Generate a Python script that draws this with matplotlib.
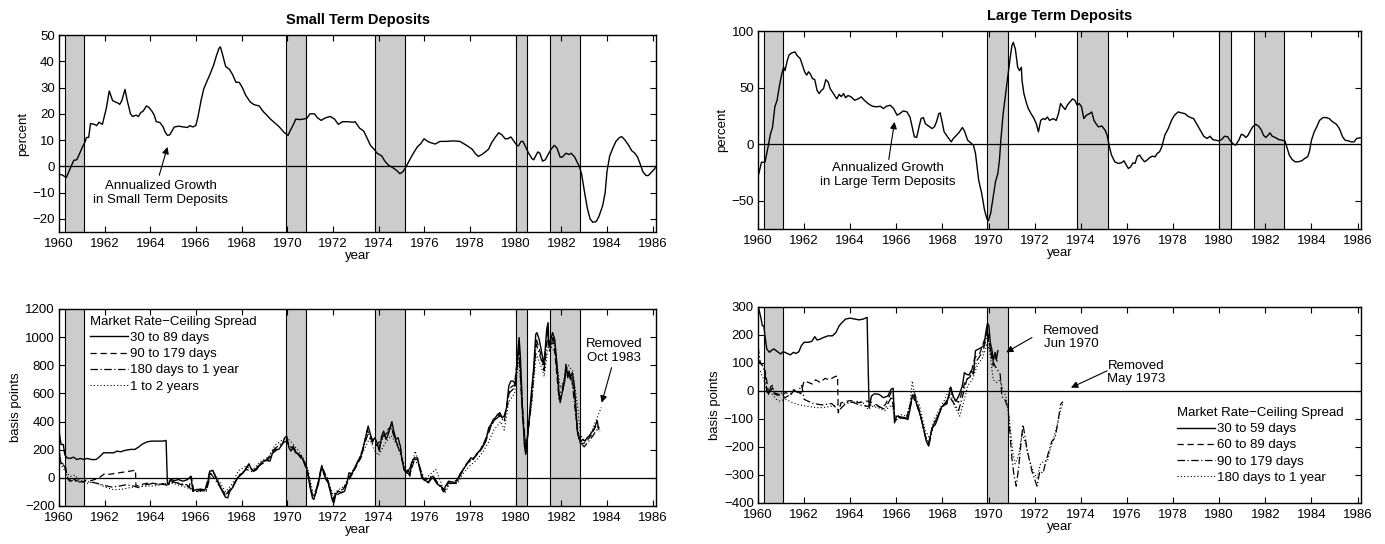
import matplotlib
matplotlib.use("Agg")
import matplotlib.pyplot as plt
from matplotlib.lines import Line2D

plt.rcParams['font.family'] = ['Liberation Sans', 'DejaVu Sans']
plt.rcParams['font.size'] = 9.5

# NBER recessions (start, end) in decimal years
recessions = [(1960.25, 1961.08), (1969.92, 1970.83), (1973.83, 1975.17),
              (1980.0, 1980.5), (1981.5, 1982.83)]

# annualized growth, small term deposits (percent)
small_t = [1960.0, 1960.15, 1960.32, 1960.55, 1960.65, 1960.78, 1961.03, 1961.15, 1961.2, 1961.3,
           1961.38, 1961.55, 1961.65, 1961.75, 1961.9, 1962.07, 1962.2, 1962.35, 1962.6, 1962.66,
           1962.75, 1962.89, 1962.99, 1963.13, 1963.22, 1963.38, 1963.48, 1963.58, 1963.68, 1963.83,
           1963.93, 1964.07, 1964.17, 1964.26, 1964.42, 1964.56, 1964.65, 1964.75, 1964.85, 1964.95,
           1965.05, 1965.25, 1965.44, 1965.63, 1965.73, 1965.85, 1965.99, 1966.09, 1966.22, 1966.34,
           1966.46, 1966.61, 1966.77, 1966.89, 1967.01, 1967.07, 1967.15, 1967.3, 1967.46, 1967.6,
           1967.75, 1967.89, 1968.03, 1968.18, 1968.38, 1968.54, 1968.77, 1968.93, 1969.1, 1969.26,
           1969.46, 1969.65, 1969.85, 1970.0, 1970.03, 1970.15, 1970.27, 1970.37, 1970.54, 1970.7,
           1970.86, 1970.99, 1971.19, 1971.32, 1971.48, 1971.68, 1971.88, 1972.07, 1972.23, 1972.42,
           1972.66, 1972.86, 1972.97, 1973.05, 1973.17, 1973.34, 1973.48, 1973.64, 1973.8, 1973.93,
           1974.13, 1974.27, 1974.42, 1974.62, 1974.78, 1974.93, 1975.07, 1975.21, 1975.36, 1975.52,
           1975.7, 1975.83, 1975.99, 1976.15, 1976.28, 1976.48, 1976.68, 1976.97, 1977.26, 1977.56,
           1977.85, 1978.1, 1978.22, 1978.36, 1978.52, 1978.67, 1978.81, 1978.95, 1979.1, 1979.26,
           1979.4, 1979.54, 1979.65, 1979.79, 1979.89, 1980.05, 1980.12, 1980.24, 1980.32, 1980.43,
           1980.57, 1980.71, 1980.79, 1980.97, 1981.06, 1981.18, 1981.3, 1981.42, 1981.55, 1981.69,
           1981.81, 1981.95, 1982.04, 1982.2, 1982.34, 1982.43, 1982.59, 1982.67, 1982.79, 1982.89,
           1983.02, 1983.14, 1983.26, 1983.38, 1983.53, 1983.65, 1983.81, 1983.92, 1984.0, 1984.12,
           1984.26, 1984.39, 1984.55, 1984.65, 1984.79, 1984.95, 1985.08, 1985.22, 1985.34, 1985.45,
           1985.57, 1985.71, 1985.81, 1985.92, 1986.08, 1986.15]
small_v = [-3.0, -3.3, -4.3, 0.4, 2.3, 2.5, 7.4, 9.5, 11, 11,
           16.3, 16.0, 15.5, 16.8, 16, 22, 28.7, 25, 24, 23.6,
           25, 29.3, 25, 20, 19, 19.5, 19, 20.5, 21, 23,
           22.5, 21, 19.5, 17, 16.7, 15, 13, 11.8, 12, 13.5,
           15, 15.3, 15, 14.8, 15.5, 15, 15.5, 19, 25, 29.5,
           32, 35, 38.5, 42, 45, 45.5, 43, 38, 37, 35,
           32, 32, 30, 27, 24.5, 23.5, 23, 21, 19.5, 18,
           16.5, 15, 13, 12, 11.8, 14, 16, 18, 17.8, 18,
           18.3, 20, 20, 18.5, 17.5, 18.5, 19, 18, 16, 17,
           17, 16.8, 17, 16, 14.5, 13.5, 11, 8, 6.5, 5,
           4, 2, 0.5, -0.5, -1.5, -2.8, -2, 0, 2.5, 5,
           7.5, 8.5, 10.5, 9.5, 9, 8.5, 9.5, 9.5, 9.7, 9.5,
           8, 6.5, 5, 3.8, 4.5, 5.5, 6.5, 9, 11, 12.8,
           12, 10.5, 10.5, 11.2, 10, 8, 7.8, 9.5, 9.5, 7.5,
           5, 3, 2.5, 5.5, 5, 2, 2.5, 4.5, 6.5, 8,
           7, 3.5, 3.5, 5, 4.5, 5, 3.5, 2, 0, -3,
           -10, -16, -20, -21.3, -21, -19, -15, -10, -2, 4,
           7, 9.5, 11, 11.3, 10, 8, 6, 5, 3.5, 1,
           -2, -3.5, -3.5, -2.5, -1, 0]

# annualized growth, large term deposits (percent)
large_t = [1960.0, 1960.15, 1960.3, 1960.44, 1960.54, 1960.63, 1960.73, 1960.83, 1960.92, 1961.02,
           1961.11, 1961.17, 1961.27, 1961.35, 1961.46, 1961.6, 1961.69, 1961.83, 1961.92, 1962.02,
           1962.11, 1962.19, 1962.27, 1962.36, 1962.46, 1962.56, 1962.65, 1962.75, 1962.84, 1962.94,
           1963.04, 1963.13, 1963.23, 1963.32, 1963.42, 1963.52, 1963.61, 1963.71, 1963.8, 1963.9,
           1964.04, 1964.19, 1964.34, 1964.48, 1964.61, 1964.77, 1964.96, 1965.15, 1965.3, 1965.44,
           1965.57, 1965.73, 1965.88, 1966.03, 1966.15, 1966.3, 1966.46, 1966.59, 1966.69, 1966.78,
           1966.88, 1966.98, 1967.07, 1967.17, 1967.26, 1967.4, 1967.55, 1967.65, 1967.74, 1967.84,
           1967.9, 1967.97, 1968.07, 1968.22, 1968.38, 1968.47, 1968.61, 1968.74, 1968.86, 1968.95,
           1969.09, 1969.22, 1969.34, 1969.43, 1969.57, 1969.7, 1969.82, 1969.92, 1969.99, 1970.09,
           1970.2, 1970.3, 1970.4, 1970.47, 1970.53, 1970.63, 1970.72, 1970.82, 1970.92, 1971.01,
           1971.07, 1971.16, 1971.26, 1971.34, 1971.42, 1971.45, 1971.53, 1971.63, 1971.72, 1971.84,
           1971.97, 1972.07, 1972.16, 1972.26, 1972.36, 1972.45, 1972.55, 1972.64, 1972.8, 1972.93,
           1973.03, 1973.12, 1973.22, 1973.32, 1973.41, 1973.51, 1973.64, 1973.74, 1973.84, 1973.93,
           1974.03, 1974.13, 1974.24, 1974.38, 1974.47, 1974.57, 1974.66, 1974.76, 1974.91, 1975.05,
           1975.14, 1975.24, 1975.33, 1975.47, 1975.62, 1975.76, 1975.87, 1975.97, 1976.06, 1976.16,
           1976.26, 1976.35, 1976.45, 1976.55, 1976.64, 1976.76, 1976.87, 1976.99, 1977.1, 1977.22,
           1977.31, 1977.41, 1977.51, 1977.64, 1977.79, 1977.93, 1978.06, 1978.22, 1978.37, 1978.51,
           1978.64, 1978.76, 1978.89, 1979.02, 1979.18, 1979.33, 1979.47, 1979.6, 1979.72, 1979.85,
           1979.98, 1980.1, 1980.23, 1980.37, 1980.48, 1980.62, 1980.71, 1980.85, 1980.96, 1981.06,
           1981.16, 1981.25, 1981.35, 1981.45, 1981.58, 1981.71, 1981.83, 1981.92, 1982.02, 1982.12,
           1982.2, 1982.3, 1982.43, 1982.59, 1982.72, 1982.85, 1982.93, 1983.04, 1983.16, 1983.29,
           1983.43, 1983.58, 1983.71, 1983.83, 1983.91, 1984.0, 1984.12, 1984.23, 1984.35, 1984.5,
           1984.64, 1984.77, 1984.92, 1985.08, 1985.21, 1985.35, 1985.46, 1985.6, 1985.73, 1985.85,
           1985.96, 1986.09, 1986.15]
large_v = [-29, -16, -16, -2, 9, 15, 33, 39, 50.6, 61,
           68, 65, 74, 79, 80.6, 81.5, 78.5, 75.6, 70, 64,
           61, 64, 62, 58, 57, 47.6, 44.7, 47.6, 49, 57,
           55, 49, 46, 43, 40, 44, 42, 44.7, 41, 43,
           41.8, 38.8, 40, 41.8, 38.8, 35.9, 33.5, 33, 33.5, 31.5,
           33.5, 34.4, 31.5, 25.6, 27, 29.4, 28.5, 24, 15, 6.5,
           5.9, 15, 22.6, 23.5, 18, 16, 13.8, 15.3, 19.7, 27,
           27.6, 21, 10.9, 6.5, 2, 5, 7.9, 10.9, 14.7, 11.8,
           3.5, 1.2, -0.9, -8, -32, -43.5, -58, -65.6, -67.6, -61,
           -46.5, -33, -26, -14, 3.5, 27, 41.8, 58, 74, 87,
           90, 84, 68, 65, 68, 56, 44.7, 37, 31.5, 27,
           22.6, 18, 10.9, 21, 22.6, 21.8, 24, 21, 22.6, 21,
           27, 35.9, 33, 30.6, 34.4, 37, 40, 38.8, 34.4, 35.9,
           33, 22.6, 25.6, 27, 28.5, 21, 18, 15.3, 16, 12.4,
           7.9, -2.4, -9.7, -15.6, -17, -16.5, -14.7, -18.5, -21.5, -20,
           -16.5, -17, -10.6, -9.7, -12.6, -15.6, -14.1, -11.8, -10.6, -11.2,
           -8.2, -6.8, -2.4, 7.9, 13.8, 21, 25.6, 28.5, 27.6, 27,
           24.7, 23.5, 22.6, 18, 12.4, 7, 5, 7, 4, 3.5,
           2.9, 4, 7, 6.5, 2.9, 0, -0.9, 3.5, 8.8, 7.9,
           5.9, 7.9, 11.8, 15.3, 17.6, 15.9, 12.4, 7.9, 5.9, 7.9,
           10, 7, 5.9, 4, 3.5, 2.9, -2.4, -9.7, -13.5, -15.6,
           -15.6, -14.7, -12.6, -11.2, -6.8, 3.5, 10.9, 15.3, 21, 23.5,
           23.5, 22.6, 19.7, 17.6, 13.8, 6.5, 3.5, 2.9, 2, 2,
           5, 5.6, 5.6]

# market rate - ceiling spread, small deposits (basis points)
s30_t = [1960.0, 1960.09, 1960.19, 1960.25, 1960.35, 1960.5, 1960.64, 1960.78, 1960.93, 1961.09,
         1961.23, 1961.42, 1961.62, 1961.76, 1961.95, 1962.2, 1962.4, 1962.54, 1962.7, 1962.89,
         1963.13, 1963.32, 1963.48, 1963.67, 1963.87, 1964.06, 1964.36, 1964.55, 1964.69, 1964.75,
         1964.8, 1964.88, 1965.08, 1965.23, 1965.43, 1965.63, 1965.78, 1965.86, 1966.02, 1966.21,
         1966.37, 1966.5, 1966.6, 1966.74, 1966.84, 1967.0, 1967.15, 1967.29, 1967.39, 1967.48,
         1967.62, 1967.78, 1967.93, 1968.07, 1968.2, 1968.32, 1968.43, 1968.52, 1968.66, 1968.8,
         1968.95, 1969.11, 1969.24, 1969.38, 1969.5, 1969.63, 1969.77, 1969.89, 1969.97, 1970.07,
         1970.16, 1970.26, 1970.36, 1970.47, 1970.61, 1970.7, 1970.81, 1970.9, 1971.0, 1971.1,
         1971.16, 1971.26, 1971.36, 1971.45, 1971.51, 1971.59, 1971.69, 1971.79, 1971.88, 1971.98,
         1972.04, 1972.12, 1972.23, 1972.37, 1972.51, 1972.63, 1972.7, 1972.82, 1972.95, 1973.09,
         1973.25, 1973.35, 1973.44, 1973.54, 1973.64, 1973.74, 1973.83, 1973.93, 1974.03, 1974.13,
         1974.22, 1974.32, 1974.42, 1974.52, 1974.58, 1974.66, 1974.76, 1974.85, 1974.95, 1975.01,
         1975.11, 1975.21, 1975.3, 1975.37, 1975.44, 1975.56, 1975.7, 1975.79, 1975.89, 1975.99,
         1976.09, 1976.18, 1976.28, 1976.38, 1976.48, 1976.58, 1976.73, 1976.83, 1976.93, 1977.06,
         1977.2, 1977.36, 1977.46, 1977.55, 1977.65, 1977.75, 1977.85, 1977.94, 1978.04, 1978.14,
         1978.24, 1978.33, 1978.43, 1978.53, 1978.63, 1978.72, 1978.82, 1978.92, 1979.02, 1979.11,
         1979.21, 1979.31, 1979.41, 1979.5, 1979.6, 1979.7, 1979.79, 1979.89, 1979.99, 1980.05,
         1980.15, 1980.21, 1980.29, 1980.38, 1980.44, 1980.52, 1980.68, 1980.78, 1980.88, 1980.93,
         1981.03, 1981.13, 1981.23, 1981.3, 1981.36, 1981.42, 1981.46, 1981.56, 1981.62, 1981.71,
         1981.81, 1981.89, 1981.95, 1982.05, 1982.15, 1982.2, 1982.28, 1982.34, 1982.4, 1982.48,
         1982.56, 1982.64, 1982.7, 1982.78, 1982.83, 1982.93, 1983.03, 1983.13, 1983.22, 1983.32,
         1983.42, 1983.51, 1983.57, 1983.61, 1983.65]
s30_v = [332, 237, 237, 166, 142, 138, 147, 130, 138, 130,
         138, 130, 130, 147, 178, 178, 178, 190, 185, 195,
         202, 202, 218, 242, 256, 261, 261, 261, 266, -47,
         -47, -12, -19, -12, -24, -12, 12, -95, -83, -83,
         -90, -47, 47, 52, 12, -47, -95, -138, -142, -95,
         -66, -12, 24, 36, 71, 100, 59, 47, 59, 95,
         119, 123, 119, 190, 202, 202, 237, 285, 297, 214,
         190, 225, 178, 171, 154, 123, 95, 24, -71, -142,
         -154, -95, -47, 47, 88, 36, -12, -36, -95, -166,
         -178, -119, -95, -107, -95, -24, 36, 24, 71, 119,
         166, 237, 297, 368, 308, 261, 285, 249, 190, 297,
         332, 273, 308, 368, 399, 332, 273, 285, 225, 142,
         59, 36, 59, 12, 107, 142, 142, 71, 0, -12,
         -24, -36, 0, 12, -24, -47, -59, -95, -59, -24,
         -28, -36, -12, 24, 47, 71, 95, 119, 142, 130,
         154, 178, 190, 225, 237, 285, 356, 380, 415, 427,
         451, 463, 427, 439, 498, 653, 688, 688, 664, 807,
         997, 854, 522, 237, 166, 285, 593, 759, 1020, 1032,
         985, 902, 807, 925, 1056, 1103, 925, 997, 1032, 985,
         807, 617, 534, 617, 688, 807, 712, 759, 712, 747,
         664, 498, 332, 285, 249, 273, 261, 285, 297, 320,
         344, 380, 408, 368, 356]

s90_t = [1960.0, 1960.08, 1960.2, 1960.28, 1960.35, 1960.45, 1960.6, 1960.75, 1960.9, 1961.05,
         1961.2, 1961.4, 1961.6, 1961.8, 1962.0, 1962.2, 1962.4, 1962.6, 1962.8, 1963.0,
         1963.2, 1963.35, 1963.37, 1963.55, 1963.8, 1964.0, 1964.3, 1964.55, 1964.75, 1964.85,
         1965.0, 1965.3, 1965.55, 1965.7, 1965.8, 1965.9, 1966.2, 1966.4, 1966.6, 1966.75,
         1967.0, 1967.3, 1967.5, 1967.8, 1968.1, 1968.3, 1968.5, 1968.8, 1969.1, 1969.4,
         1969.7, 1969.95, 1970.1, 1970.3, 1970.5, 1970.7, 1970.9, 1971.1, 1971.2, 1971.45,
         1971.55, 1971.8, 1972.0, 1972.1, 1972.4, 1972.65, 1972.95, 1973.25, 1973.5, 1973.65,
         1973.9, 1974.1, 1974.25, 1974.55, 1974.75, 1974.95, 1975.1, 1975.3, 1975.5, 1975.7,
         1975.95, 1976.2, 1976.4, 1976.6, 1976.85, 1977.1, 1977.4, 1977.6, 1977.85, 1978.1,
         1978.4, 1978.65, 1978.9, 1979.1, 1979.3, 1979.45, 1979.6, 1979.75, 1979.95, 1980.15,
         1980.3, 1980.45, 1980.7, 1980.9, 1981.1, 1981.25, 1981.4, 1981.5, 1981.65, 1981.9,
         1982.05, 1982.2, 1982.4, 1982.55, 1982.7, 1982.85, 1983.05, 1983.3, 1983.55, 1983.65]
s90_v = [200, 110, 95, 90, 10, -20, 0, -25, -10, -30,
         -15, -20, -10, 5, 30, 25, 30, 35, 40, 45,
         50, 55, -60, -50, -40, -35, -45, -40, -55, -20,
         -25, -45, -55, -65, 5, -90, -80, -85, 40, 45,
         -40, -130, -90, -5, 40, 90, 50, 90, 120, 180,
         220, 280, 220, 210, 160, 120, 30, -120, -140, 40,
         70, -30, -160, -130, -100, -30, 60, 150, 340, 290,
         230, 270, 310, 370, 260, 210, 60, 40, 130, 130,
         -10, -30, 10, -40, -80, -30, -20, 30, 100, 130,
         180, 240, 360, 420, 450, 420, 480, 640, 660, 950,
         500, 180, 580, 990, 880, 780, 1060, 900, 1010, 560,
         600, 780, 700, 640, 320, 240, 250, 300, 380, 340]

s180_t = [1960.0, 1960.1, 1960.25, 1960.35, 1960.5, 1960.7, 1960.9, 1961.1, 1961.4, 1961.7,
          1962.0, 1962.3, 1962.6, 1962.9, 1963.2, 1963.5, 1963.8, 1964.1, 1964.4, 1964.75,
          1965.0, 1965.3, 1965.6, 1965.9, 1966.2, 1966.45, 1966.65, 1967.0, 1967.3, 1967.6,
          1967.9, 1968.2, 1968.5, 1968.8, 1969.1, 1969.4, 1969.7, 1969.95, 1970.1, 1970.4,
          1970.6, 1970.85, 1971.05, 1971.2, 1971.5, 1971.75, 1972.0, 1972.15, 1972.45, 1972.7,
          1973.0, 1973.3, 1973.55, 1973.75, 1974.0, 1974.2, 1974.55, 1974.8, 1975.0, 1975.15,
          1975.35, 1975.55, 1975.75, 1976.0, 1976.3, 1976.55, 1976.85, 1977.1, 1977.4, 1977.65,
          1977.9, 1978.2, 1978.5, 1978.75, 1979.0, 1979.3, 1979.5, 1979.7, 1979.95, 1980.15,
          1980.3, 1980.45, 1980.7, 1980.9, 1981.1, 1981.25, 1981.4, 1981.55, 1981.7, 1981.9,
          1982.05, 1982.2, 1982.45, 1982.65, 1982.8, 1983.0, 1983.3, 1983.55, 1983.7]
s180_v = [180, 100, 80, 0, -25, -10, -30, -25, -30, -40,
          -55, -65, -60, -50, -55, -70, -50, -40, -45, -50,
          -30, -40, -50, -100, -90, -95, 30, -50, -120, -60,
          20, 60, 40, 100, 130, 200, 240, 260, 230, 180,
          150, 80, -100, -120, 60, -20, -150, -100, -80, 0,
          80, 200, 320, 240, 210, 290, 350, 240, 150, 50,
          20, 120, 100, -20, 10, -30, -100, -40, -40, 40,
          110, 150, 210, 300, 400, 440, 400, 600, 640, 900,
          450, 200, 550, 950, 850, 760, 1000, 950, 960, 580,
          640, 760, 720, 420, 260, 220, 280, 340, 330]

s1y_t = [1960.0, 1960.1, 1960.3, 1960.5, 1960.7, 1960.9, 1961.2, 1961.5, 1961.8, 1962.1,
         1962.4, 1962.8, 1963.1, 1963.5, 1963.9, 1964.3, 1964.7, 1965.0, 1965.4, 1965.8,
         1966.1, 1966.45, 1966.7, 1967.0, 1967.3, 1967.6, 1967.85, 1968.15, 1968.5, 1968.85,
         1969.2, 1969.45, 1969.7, 1969.95, 1970.2, 1970.45, 1970.7, 1970.9, 1971.1, 1971.25,
         1971.5, 1971.75, 1972.0, 1972.2, 1972.5, 1972.75, 1973.0, 1973.3, 1973.6, 1973.8,
         1974.0, 1974.3, 1974.55, 1974.85, 1975.05, 1975.25, 1975.45, 1975.6, 1975.8, 1976.0,
         1976.3, 1976.5, 1976.7, 1976.9, 1977.15, 1977.45, 1977.7, 1977.95, 1978.25, 1978.55,
         1978.8, 1979.05, 1979.35, 1979.5, 1979.7, 1979.95, 1980.15, 1980.3, 1980.45, 1980.7,
         1980.9, 1981.1, 1981.25, 1981.45, 1981.6, 1981.75, 1981.95, 1982.1, 1982.3, 1982.5,
         1982.7, 1982.85, 1983.05, 1983.3, 1983.55, 1983.75]
s1y_v = [150, 90, 40, 10, 20, -20, -40, -30, -50, -70,
         -85, -80, -70, -60, -60, -55, -40, -40, -60, -80,
         -100, -90, 60, -20, -100, -40, 50, 80, 60, 120,
         150, 230, 260, 290, 250, 200, 140, 60, -90, -100,
         70, 0, -120, -90, -60, 30, 80, 180, 280, 200,
         160, 250, 300, 220, 120, 30, 80, 190, 80, -10,
         30, 60, -20, -110, -30, -40, 30, 80, 120, 180,
         250, 340, 400, 340, 540, 600, 850, 420, 220, 520,
         880, 800, 720, 960, 920, 880, 640, 680, 800, 760,
         520, 300, 260, 320, 420, 500]

# market rate - ceiling spread, large deposits (basis points)
l30_t = [1960.0, 1960.12, 1960.19, 1960.25, 1960.31, 1960.38, 1960.5, 1960.6, 1960.69, 1960.79,
         1960.88, 1960.98, 1961.08, 1961.17, 1961.27, 1961.4, 1961.54, 1961.65, 1961.77, 1961.88,
         1962.0, 1962.17, 1962.33, 1962.46, 1962.56, 1962.69, 1962.84, 1963.04, 1963.23, 1963.38,
         1963.52, 1963.65, 1963.8, 1964.0, 1964.19, 1964.38, 1964.57, 1964.73, 1964.8, 1964.82,
         1964.92, 1965.05, 1965.25, 1965.44, 1965.63, 1965.77, 1965.86, 1965.92, 1966.01, 1966.21,
         1966.4, 1966.5, 1966.59, 1966.69, 1966.78, 1966.88, 1967.03, 1967.17, 1967.3, 1967.4,
         1967.46, 1967.55, 1967.69, 1967.8, 1967.94, 1968.07, 1968.19, 1968.28, 1968.36, 1968.46,
         1968.57, 1968.67, 1968.76, 1968.86, 1968.95, 1969.03, 1969.15, 1969.24, 1969.34, 1969.43,
         1969.57, 1969.7, 1969.8, 1969.88, 1969.95, 1970.01, 1970.07, 1970.15, 1970.2, 1970.28,
         1970.34, 1970.4]
l30_v = [305, 263, 233, 233, 191, 150, 138, 146, 150, 144,
         138, 132, 140, 138, 134, 129, 138, 134, 140, 162,
         174, 174, 177, 194, 182, 185, 191, 197, 197, 209,
         233, 245, 257, 260, 257, 254, 257, 263, 0, -60,
         -18, -10, -12, -24, -18, 6, 10, -114, -90, -93,
         -96, -102, -66, -14, -18, -48, -84, -132, -180, -197,
         -168, -132, -120, -96, -60, -48, -42, -12, 14, -18,
         -36, -24, -6, 18, 66, 60, 57, 72, 60, 144,
         150, 156, 162, 209, 242, 233, 174, 144, 108, 138,
         114, 144]

l60_t = [1960.0, 1960.15, 1960.31, 1960.38, 1960.46, 1960.54, 1960.63, 1960.69, 1960.83, 1961.0,
         1961.2, 1961.4, 1961.6, 1961.85, 1962.0, 1962.2, 1962.35, 1962.5, 1962.7, 1962.9,
         1963.1, 1963.3, 1963.45, 1963.48, 1963.6, 1964.0, 1964.38, 1964.73, 1964.96, 1965.15,
         1965.34, 1965.53, 1965.77, 1965.86, 1965.92, 1966.1, 1966.4, 1966.6, 1966.7, 1966.85,
         1967.05, 1967.3, 1967.4, 1967.55, 1967.8, 1968.0, 1968.2, 1968.36, 1968.5, 1968.7,
         1968.9, 1969.0, 1969.2, 1969.4, 1969.6, 1969.85, 1969.95, 1970.07, 1970.2, 1970.3,
         1970.4]
l60_v = [110, 96, 72, 36, -12, 0, 12, -6, -10, -20,
         -5, -15, 5, -10, 36, 30, 25, 40, 30, 45,
         40, 50, 54, -78, -42, -34, -42, -36, -42, -50,
         -60, -48, -5, 0, -100, -95, -100, -60, -20, -40,
         -90, -175, -185, -130, -90, -55, -45, 5, -30, -40,
         10, 40, 50, 120, 130, 190, 220, 150, 90, 120,
         100]

l90_t = [1960.0, 1960.1, 1960.2, 1960.3, 1960.38, 1960.45, 1960.55, 1960.62, 1960.7, 1960.85,
         1961.0, 1961.15, 1961.35, 1961.55, 1961.7, 1961.9, 1962.0, 1962.4, 1962.8, 1963.2,
         1963.5, 1963.8, 1964.1, 1964.4, 1964.75, 1964.9, 1965.2, 1965.5, 1965.8, 1965.95,
         1966.2, 1966.45, 1966.65, 1966.8, 1967.0, 1967.25, 1967.42, 1967.6, 1967.85, 1968.05,
         1968.3, 1968.5, 1968.7, 1968.9, 1969.05, 1969.3, 1969.5, 1969.75, 1969.93, 1970.05,
         1970.2, 1970.35, 1970.5, 1970.58, 1970.7, 1970.84, 1971.01, 1971.1, 1971.2, 1971.3,
         1971.4, 1971.49, 1971.59, 1971.68, 1971.88, 1972.03, 1972.1, 1972.22, 1972.36, 1972.45,
         1972.61, 1972.74, 1972.88, 1972.99, 1973.12, 1973.22]
l90_v = [160, 100, 90, 70, 0, -15, 15, 20, -10, -15,
         -5, -25, -15, 5, -5, 20, -30, -45, -50, -45,
         -70, -45, -40, -50, -55, -50, -55, -65, -20, -105,
         -95, -100, -30, -10, -70, -160, -190, -120, -80, -50,
         -20, -45, -70, -10, 40, 60, 110, 140, 200, 160,
         100, 80, 60, -20, -30, -60, -240, -300, -340, -275,
         -190, -120, -168, -215, -287, -323, -340, -287, -293, -263,
         -215, -180, -168, -120, -48, -38]

l180_t = [1960.0, 1960.1, 1960.25, 1960.4, 1960.6, 1960.8, 1960.92, 1961.2, 1961.5, 1961.8,
          1962.08, 1962.4, 1962.65, 1962.95, 1963.23, 1963.5, 1963.8, 1964.1, 1964.38, 1964.6,
          1964.77, 1964.95, 1965.2, 1965.5, 1965.8, 1965.95, 1966.2, 1966.45, 1966.6, 1966.69,
          1966.8, 1967.0, 1967.25, 1967.45, 1967.65, 1967.9, 1968.1, 1968.3, 1968.5, 1968.75,
          1968.95, 1969.1, 1969.3, 1969.5, 1969.75, 1969.93, 1970.05, 1970.2, 1970.35, 1970.5,
          1970.6, 1970.75, 1970.9, 1971.05, 1971.15, 1971.3, 1971.45, 1971.6, 1971.75, 1971.95,
          1972.1, 1972.25, 1972.4, 1972.55, 1972.7, 1972.85, 1973.0, 1973.15, 1973.25]
l180_v = [80, 70, 40, 0, -10, -30, -36, -30, -42, -50,
          -54, -58, -60, -58, -54, -48, -42, -40, -36, -45,
          -66, -55, -60, -70, -50, -90, -85, -90, -40, 36,
          -20, -50, -140, -170, -100, -60, -30, 10, -50, -90,
          -30, 20, 40, 90, 120, 170, 140, 40, 30, 40,
          10, -20, -100, -220, -260, -230, -150, -190, -240, -290,
          -310, -260, -250, -250, -200, -160, -110, -60, -40]

years = list(range(1960, 1987, 2))

fig = plt.figure(figsize=(13.85, 5.44), dpi=100)
ax_ul = fig.add_axes([0.0426, 0.5735, 0.4311, 0.3621])
ax_ur = fig.add_axes([0.5473, 0.5790, 0.4354, 0.3640])
ax_ll = fig.add_axes([0.0426, 0.0699, 0.4311, 0.3621])
ax_lr = fig.add_axes([0.5473, 0.0754, 0.4354, 0.3603])

ARROW = dict(arrowstyle='-|>', color='black', lw=0.8, mutation_scale=10, shrinkA=0, shrinkB=0)
SOLID = dict(color='black', lw=1.0, ls='-')
DASHED = dict(color='black', lw=0.9, ls=(0, (5, 3)))
DASHDOT = dict(color='black', lw=0.9, ls=(0, (6, 2, 1, 2)))
DOTTED = dict(color='black', lw=0.8, ls=(0, (1, 2)))


def shade(ax, periods):
    for a, b in periods:
        ax.axvspan(a, b, facecolor='#cccccc', edgecolor='none', zorder=0)
        ax.axvline(a, color='black', lw=0.8, zorder=1)
        ax.axvline(b, color='black', lw=0.8, zorder=1)


def style(ax, ylim, yticks, ylabel):
    ax.set_xlim(1960.0, 1986.15)
    ax.set_ylim(*ylim)
    ax.set_xticks(years)
    ax.set_yticks(yticks)
    ax.tick_params(direction='in', top=True, right=True, length=4, width=0.8, labelsize=9.5)
    ax.tick_params(axis='x', pad=4.5)
    ax.tick_params(axis='y', pad=3)
    ax.set_xlabel('year', fontsize=9.5, labelpad=0)
    ax.set_ylabel(ylabel, fontsize=9.5, labelpad=2)
    ax.axhline(0, color='black', lw=0.9, zorder=2)
    for sp in ax.spines.values():
        sp.set_linewidth(1.0)


def note(ax, text, pos, tail, tip):
    ax.text(pos[0], pos[1], text, ha='center', va='center', fontsize=9.5, linespacing=1.2)
    ax.annotate('', xy=tip, xytext=tail, arrowprops=ARROW)


def spread_legend(ax, labels, anchor):
    handles = [Line2D([], [], **SOLID), Line2D([], [], **DASHED),
               Line2D([], [], **DASHDOT), Line2D([], [], **DOTTED)]
    ax.legend(handles, labels, title='Market Rate\u2212Ceiling Spread', title_fontsize=9.5,
              fontsize=9.5, loc='upper left', bbox_to_anchor=anchor, frameon=False,
              alignment='left', handlelength=2.9, handletextpad=0.1, labelspacing=0.3,
              borderpad=0, borderaxespad=0)


# small term deposits growth
shade(ax_ul, recessions)
ax_ul.plot(small_t, small_v, zorder=3, **SOLID)
style(ax_ul, (-25, 50), range(-20, 51, 10), 'percent')
ax_ul.set_title('Small Term Deposits', fontsize=10.5, fontweight='bold', pad=8)
note(ax_ul, 'Annualized Growth\nin Small Term Deposits', (1964.45, -10.1),
     (1964.39, -3.4), (1964.75, 7.4))

# large term deposits growth
shade(ax_ur, recessions)
ax_ur.plot(large_t, large_v, zorder=3, **SOLID)
style(ax_ur, (-75, 100), [-50, 0, 50, 100], 'percent')
ax_ur.set_title('Large Term Deposits', fontsize=10.5, fontweight='bold', pad=8)
note(ax_ur, 'Annualized Growth\nin Large Term Deposits', (1965.63, -27),
     (1965.67, -13.5), (1965.92, 19.7))

# ceiling spreads, small deposits
shade(ax_ll, recessions)
ax_ll.plot(s30_t, s30_v, zorder=3, **SOLID)
ax_ll.plot(s90_t, s90_v, zorder=3, **DASHED)
ax_ll.plot(s180_t, s180_v, zorder=3, **DASHDOT)
ax_ll.plot(s1y_t, s1y_v, zorder=3, **DOTTED)
style(ax_ll, (-200, 1200), range(-200, 1201, 200), 'basis points')
note(ax_ll, 'Removed\nOct 1983', (1984.3, 902), (1984.2, 783), (1983.77, 534))
spread_legend(ax_ll, ['30 to 89 days', '90 to 179 days', '180 days to 1 year', '1 to 2 years'],
              (0.052, 0.965))

# ceiling spreads, large deposits
shade(ax_lr, recessions[:2])
ax_lr.plot(l30_t, l30_v, zorder=3, **SOLID)
ax_lr.plot(l60_t, l60_v, zorder=3, **DASHED)
ax_lr.plot(l90_t, l90_v, zorder=3, **DASHDOT)
ax_lr.plot(l180_t, l180_v, zorder=3, **DOTTED)
style(ax_lr, (-400, 300), range(-400, 301, 100), 'basis points')
note(ax_lr, 'Removed\nJun 1970', (1973.57, 191), (1971.88, 191), (1970.76, 138))
note(ax_lr, 'Removed\nMay 1973', (1976.39, 66), (1975.14, 72), (1973.57, 12))
spread_legend(ax_lr, ['30 to 59 days', '60 to 89 days', '90 to 179 days', '180 days to 1 year'],
              (0.695, 0.49))

fig.savefig('out.png', dpi=100)
